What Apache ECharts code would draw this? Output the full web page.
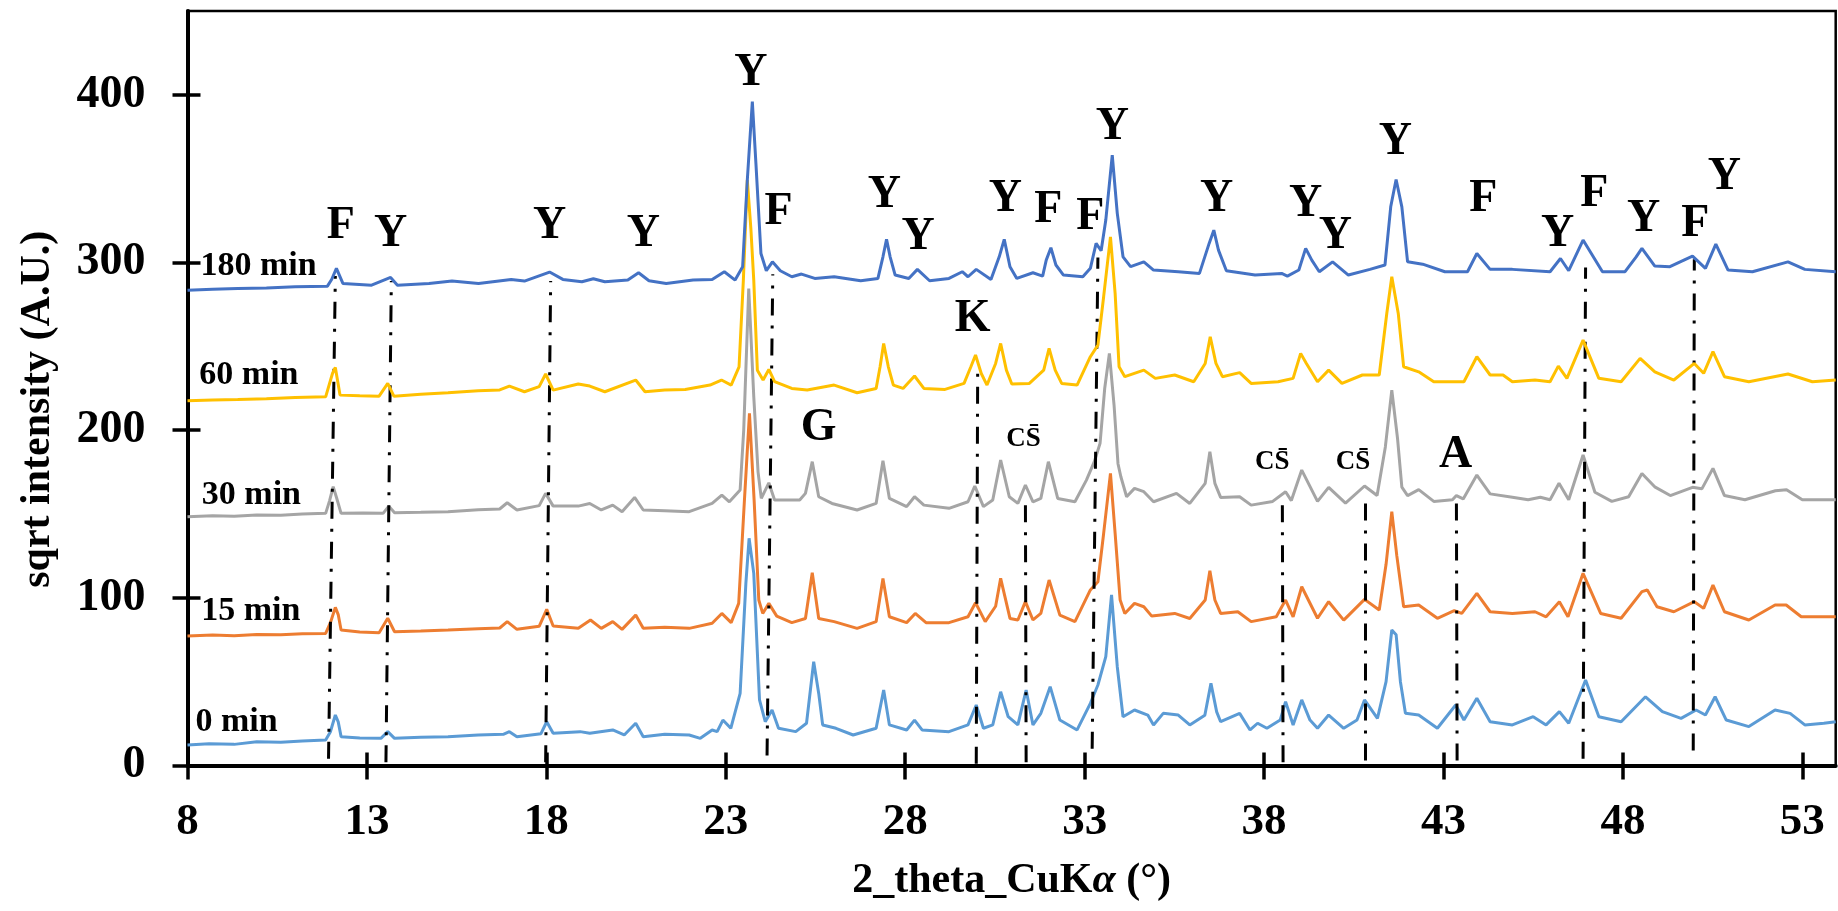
<!DOCTYPE html>
<html>
<head>
<meta charset="utf-8">
<script src="https://cdn.jsdelivr.net/npm/echarts@6/dist/echarts.min.js"></script>
<style>
html,body{margin:0;padding:0;background:#fff;}
#chart{width:1838px;height:911px;}
</style>
</head>
<body>
<div id="chart"></div>
<script>
// ---- data (2theta, sqrt intensity) ----
const seriesNames = ['0 min', '15 min', '30 min', '60 min', '180 min'];
const xTicks = [8, 13, 18, 23, 28, 33, 38, 43, 48, 53];
const yTicks = [0, 100, 200, 300, 400];

const s0min = [[8.0,12.2],[8.6,13],[9.3,12.6],[9.93,14.2],[10.6,13.8],[11.2,14.6],[11.85,15.2],[11.98,20],[12.12,30.1],[12.2,26],[12.28,17.2],[12.8,16.4],[13.39,16.2],[13.58,20.2],[13.77,16.2],[14.5,16.8],[15.26,17.2],[16.1,18.2],[16.8,18.6],[16.97,20.2],[17.18,17.2],[17.85,19],[18.01,26.1],[18.19,19.2],[18.94,20.2],[19.21,19.2],[19.85,21.2],[20.17,18.2],[20.49,25.2],[20.7,17.2],[21.3,18.6],[21.98,18.2],[22.29,16.2],[22.62,21.2],[22.76,20.2],[22.92,27.1],[23.14,22.2],[23.4,43.0],[23.56,108.6],[23.65,135.5],[23.78,114.6],[23.94,39.1],[24.1,26.1],[24.29,33.1],[24.47,22.2],[24.95,20.2],[25.25,25.2],[25.45,61.9],[25.59,43.0],[25.7,24.2],[26.07,22.2],[26.55,18.2],[27.19,22.2],[27.4,45.0],[27.56,24.2],[28.04,21.2],[28.26,27.1],[28.47,21.2],[29.22,20.2],[29.75,24.2],[29.98,36.1],[30.18,22.2],[30.44,24.2],[30.66,44.0],[30.87,29.1],[31.14,24.2],[31.37,45.0],[31.56,24.2],[31.78,31.1],[32.04,47.0],[32.31,27.1],[32.79,21.2],[33.16,37.1],[33.37,48.0],[33.59,64.9],[33.75,101.7],[33.91,58.9],[34.07,29.1],[34.39,33.1],[34.76,30.1],[34.92,24.2],[35.19,31.1],[35.61,30.1],[35.93,24.2],[36.35,30],[36.52,49.0],[36.68,32],[36.79,26.1],[37.32,31.1],[37.61,21.2],[37.82,25.2],[38.08,22.2],[38.45,27.1],[38.6,38.1],[38.81,24.2],[39.05,39.1],[39.28,27.1],[39.49,22.2],[39.8,30.1],[40.22,22.2],[40.59,27.1],[40.8,39.1],[41.16,28.1],[41.4,50],[41.56,80.8],[41.68,78],[41.8,50],[41.94,31.1],[42.31,30.1],[42.83,22.2],[43.34,36.1],[43.57,27.1],[43.93,40.1],[44.3,26.1],[44.92,24.2],[45.5,29.1],[45.86,24.2],[46.23,32.1],[46.49,25.2],[46.96,51.0],[47.33,29.1],[47.95,26.1],[48.63,41.0],[49.1,32.1],[49.62,28.1],[50.04,33.1],[50.3,30.1],[50.57,41.0],[50.88,27.1],[51.51,23.2],[52.24,33.1],[52.66,31.1],[53.07,24.2],[53.6,25.2],[53.93,26.1]];

const s15min = [[8.0,77.2],[8.7,77.8],[9.3,77.4],[9.93,78.2],[10.6,78],[11.2,78.6],[11.85,78.8],[11.98,85],[12.12,94.3],[12.2,90],[12.28,80.8],[12.8,79.6],[13.34,79.2],[13.58,87.8],[13.77,79.8],[14.5,80.2],[15.26,80.8],[16.1,81.6],[16.7,82],[16.91,85.8],[17.18,81.2],[17.8,83],[18.01,93.1],[18.19,83.2],[18.89,81.8],[19.23,86.8],[19.53,81.8],[19.85,85.8],[20.11,81.2],[20.49,89.7],[20.7,81.8],[21.3,82.4],[21.98,81.8],[22.62,84.8],[22.89,90.7],[23.15,85.2],[23.36,96.7],[23.52,158.3],[23.66,210.0],[23.79,158.3],[23.92,98.7],[24.03,90.7],[24.2,96.7],[24.42,89.1],[24.84,85.2],[25.22,87.7],[25.41,115.0],[25.59,87.7],[26.02,85.8],[26.66,81.8],[27.19,85.8],[27.38,111.6],[27.56,88.7],[28.04,85.2],[28.28,90.7],[28.58,85.2],[29.22,85.2],[29.75,88.7],[29.96,97.1],[30.23,85.8],[30.52,95],[30.66,111.6],[30.92,87.7],[31.14,86.8],[31.35,97.7],[31.56,86.8],[31.78,90.7],[32.01,110.6],[32.31,89.7],[32.73,85.8],[33.16,104.7],[33.37,109.6],[33.53,138.4],[33.72,174.2],[33.85,138.4],[33.99,98.7],[34.12,90.7],[34.39,96.7],[34.65,94.7],[34.87,89.1],[35.51,90.7],[35.93,87.7],[36.36,98.7],[36.49,116.2],[36.63,98.7],[36.79,90.7],[37.27,91.7],[37.64,85.8],[38.34,88.7],[38.6,98.7],[38.81,88.7],[39.05,106.6],[39.49,87.8],[39.8,97.7],[40.22,86.7],[40.8,99.1],[41.21,92.7],[41.4,120],[41.56,151.4],[41.7,125],[41.89,94.7],[42.31,95.7],[42.83,87.8],[43.3,92.3],[43.51,90.7],[43.93,102.7],[44.3,91.7],[44.92,90.7],[45.55,91.7],[45.86,88.7],[46.23,97.7],[46.47,88.7],[46.89,114.6],[47.38,90.7],[47.95,87.8],[48.53,103.7],[48.68,104.7],[48.95,94.7],[49.42,91.7],[49.99,97.7],[50.25,93.7],[50.51,107.6],[50.83,91.7],[51.51,86.8],[52.24,95.7],[52.55,95.7],[52.97,88.7],[53.93,88.7]];

const s30min = [[8.0,148.4],[8.7,149],[9.3,148.6],[9.93,149.4],[10.6,149.2],[11.2,150],[11.85,150.4],[11.96,158],[12.06,166.3],[12.15,160],[12.28,150.4],[12.9,150.6],[13.45,150.4],[13.61,154.7],[13.77,150.8],[14.5,151],[15.26,151.4],[16.1,152.6],[16.7,153],[16.91,156.7],[17.18,152.4],[17.8,155],[17.98,162.3],[18.19,154.7],[18.89,154.7],[19.21,156.3],[19.53,152.4],[19.85,155.3],[20.11,151.4],[20.46,159.9],[20.7,152.4],[21.3,152],[21.98,151.4],[22.62,156.3],[22.89,161.3],[23.1,157.3],[23.4,164.3],[23.5,200],[23.64,284.5],[23.78,220],[23.9,175],[23.99,159.3],[24.2,168.6],[24.36,158.3],[25.06,158.3],[25.22,162.3],[25.41,181.2],[25.59,160.3],[25.96,156.3],[26.66,152.4],[27.19,156.3],[27.38,181.8],[27.56,159.3],[28.04,154.4],[28.26,160.3],[28.52,155.3],[29.22,153.4],[29.75,157.3],[29.94,166.7],[30.18,154.4],[30.44,158.3],[30.66,182.2],[30.9,160.3],[31.14,156.3],[31.35,167.3],[31.56,157.3],[31.78,159.3],[31.99,181.2],[32.25,159.3],[32.73,157.3],[33.05,170.2],[33.27,181.2],[33.43,192.1],[33.56,225],[33.69,245.8],[33.82,215],[33.93,180],[34.01,172.2],[34.17,160.3],[34.39,165.3],[34.65,163.3],[34.92,157.3],[35.56,162.3],[35.93,156.3],[36.36,168.3],[36.49,187.1],[36.63,168.3],[36.79,159.9],[37.32,160.3],[37.64,155.3],[38.24,157.5],[38.6,163.3],[38.76,158],[39.05,176.2],[39.49,157.5],[39.8,165.9],[40.27,156.5],[40.8,166.7],[41.15,161],[41.38,190],[41.56,223.9],[41.72,195],[41.84,166],[42.0,161],[42.31,164.5],[42.73,157.5],[43.25,158.5],[43.36,161],[43.55,159],[43.93,173.2],[44.3,162],[44.92,160],[45.36,158.5],[45.7,160],[45.97,158.5],[46.22,168.3],[46.49,158.5],[46.89,185.2],[47.22,163],[47.69,157.5],[48.16,160.3],[48.53,174.2],[48.9,166],[49.32,161],[49.94,165.9],[50.2,165],[50.51,177.2],[50.83,161],[51.4,158.5],[52.25,163.9],[52.56,164.5],[53.0,158.5],[53.93,158.5]];

const s60min = [[8.0,217.5],[8.7,218],[9.4,218.3],[10.2,218.8],[11.0,219.5],[11.85,219.9],[12.04,233.8],[12.12,237.4],[12.25,220.9],[12.8,220.5],[13.34,220.3],[13.58,227.9],[13.75,220.3],[14.5,221.4],[15.26,222.3],[16.1,223.5],[16.7,224],[16.97,226.3],[17.39,222.9],[17.8,226],[17.98,233.5],[18.19,223.9],[18.89,227.5],[19.21,226.3],[19.63,222.9],[20.49,229.9],[20.75,222.9],[21.3,224],[21.87,224.3],[22.56,226.9],[22.88,229.9],[23.15,226.9],[23.37,237.8],[23.49,289.5],[23.6,349.1],[23.7,320],[23.78,289.5],[23.88,235.8],[24.04,229.9],[24.2,236.2],[24.36,228.9],[24.84,224.9],[25.27,223.9],[26.02,226.9],[26.66,222.3],[27.19,224.9],[27.3,237.8],[27.4,251.7],[27.53,237.8],[27.67,226.9],[27.94,224.9],[28.26,232.3],[28.52,224.9],[29.11,224.3],[29.64,227.9],[29.83,237.8],[29.96,244.8],[30.12,233.8],[30.28,226.9],[30.52,239.8],[30.66,251.7],[30.82,235.8],[30.97,227.5],[31.46,227.9],[31.86,235.8],[32.01,248.8],[32.18,235.8],[32.36,227.9],[32.79,226.9],[33.16,243.8],[33.37,250.7],[33.53,279.6],[33.72,315.3],[33.85,281.6],[33.96,237.8],[34.12,231.9],[34.65,235.8],[34.97,230.9],[35.51,232.9],[36.04,228.9],[36.36,239.8],[36.5,255.7],[36.66,239.8],[36.84,231.9],[37.32,234.3],[37.64,227.9],[38.39,228.9],[38.81,230.9],[39.02,245.8],[39.18,239.8],[39.49,228.9],[39.8,235.8],[40.17,227.9],[40.74,232.9],[41.21,232.9],[41.42,269.6],[41.56,291.5],[41.74,269.6],[41.89,237.8],[42.31,234.8],[42.73,228.9],[43.57,228.9],[43.93,243.8],[44.3,232.9],[44.66,232.9],[44.92,228.9],[45.55,229.9],[45.97,228.9],[46.2,238.2],[46.44,230.9],[46.89,253.7],[47.33,230.9],[47.95,228.9],[48.48,242.8],[48.89,234.8],[49.42,229.9],[49.99,239.8],[50.25,233.9],[50.51,246.8],[50.83,231.9],[51.51,228.9],[52.6,233.5],[53.28,228.9],[53.93,229.9]];

const s180min = [[8.0,283.5],[8.7,284],[9.4,284.5],[10.2,284.8],[11.0,285.5],[11.9,285.9],[12.02,290],[12.15,296.5],[12.33,287.5],[13.13,286.5],[13.66,291.1],[13.85,286.5],[14.73,287.5],[15.37,288.9],[16.11,287.5],[17.02,289.9],[17.39,288.9],[18.09,294.3],[18.46,289.9],[18.99,288.5],[19.31,290.3],[19.63,288.5],[20.27,289.5],[20.57,293.9],[20.86,289.1],[21.34,287.5],[22.09,289.5],[22.62,289.9],[22.96,294.5],[23.26,289.5],[23.47,297.5],[23.6,349.1],[23.74,395.9],[23.84,359.1],[23.98,305.4],[24.13,295.1],[24.3,300.4],[24.52,295.1],[24.84,291.5],[25.11,293.1],[25.48,290.5],[26.02,291.5],[26.76,289.1],[27.24,290.5],[27.38,303.4],[27.48,313.8],[27.58,303.4],[27.72,292.5],[28.1,290.5],[28.34,295.9],[28.68,289.1],[29.22,290.5],[29.59,294.5],[29.75,291.5],[29.98,295.9],[30.39,289.9],[30.62,303.4],[30.76,313.8],[30.92,297.5],[31.11,290.5],[31.56,293.9],[31.83,291.9],[31.93,301.4],[32.06,308.8],[32.2,298.5],[32.41,292.5],[32.95,291.5],[33.16,296.5],[33.32,311.4],[33.46,307.0],[33.59,325.3],[33.77,364.0],[33.91,329.3],[34.07,303.4],[34.28,297.5],[34.65,300.4],[34.92,295.5],[35.61,294.5],[36.2,293.5],[36.47,311.4],[36.6,319.3],[36.73,307.4],[36.95,295.1],[37.75,292.5],[38.49,293.5],[38.65,291.9],[38.97,295.5],[39.16,308.4],[39.33,301.4],[39.54,294.5],[39.91,300.4],[40.35,292.5],[40.95,295.9],[41.37,298.5],[41.53,333.2],[41.68,349.5],[41.84,333.2],[42.0,300.4],[42.42,299.0],[43.04,294.5],[43.67,294.5],[43.93,305.4],[44.3,295.9],[44.92,295.9],[45.97,294.5],[46.26,302.4],[46.49,295.1],[46.89,313.4],[47.43,294.5],[48.06,294.5],[48.37,303.4],[48.53,308.4],[48.89,297.9],[49.31,297.5],[49.94,303.8],[50.3,296.5],[50.59,311.0],[50.93,295.5],[51.61,294.5],[52.6,300.4],[53.07,295.9],[53.93,294.5]];

// phase labels: [2theta, intensity, text]
const phaseLabels = [[12.27,322,'F'],[13.66,317,'Y'],[18.09,322,'Y'],[20.7,317,'Y'],[23.7,413,'Y'],[24.47,330,'F'],[27.42,340,'Y'],[28.36,315,'Y'],[30.79,338,'Y'],[31.99,331,'F'],[33.16,327,'F'],[33.77,381,'Y'],[36.68,338,'Y'],[39.16,335,'Y'],[39.99,316,'Y'],[41.66,372,'Y'],[44.11,338,'F'],[46.18,317,'Y'],[47.2,341,'F'],[48.58,326,'Y'],[50.02,323,'F'],[50.83,351,'Y'],[29.88,266,'K'],[25.59,201,'G'],[43.34,185,'A']];
const csLabels = [[31.3,195],[38.23,181],[40.48,181]];
// curve name labels: [2theta (left edge), intensity, text]
const curveLabels = [[8.22,26,'0 min'],[8.38,92,'15 min'],[8.4,161,'30 min'],[8.33,233,'60 min'],[8.36,298,'180 min']];
// dash-dot reference lines: [x bottom, y bottom, x top, y top]
const refLines = [[11.93,4,12.12,292],[13.53,2,13.68,289],[17.98,2,18.12,289],[24.15,6,24.31,293],[29.98,1,30.02,237],[31.37,2,31.35,158],[33.21,10,33.37,303],[38.53,2,38.51,157],[40.83,3,40.83,160],[43.38,3,43.36,160],[46.89,4,46.96,297],[49.96,9,49.99,302]];

const colors = ['#5B9BD5', '#ED7D31', '#A5A5A5', '#FFC000', '#4472C4'];
const curves = [s0min, s15min, s30min, s60min, s180min];
const FONT = 'Liberation Serif, Times New Roman, serif';

const chart = echarts.init(document.getElementById('chart'), null, {renderer: 'canvas'});

const xBase = {type: 'value', min: 8, max: 53.93, splitLine: {show: false}};
const yBase = {type: 'value', min: 0, max: 450, splitLine: {show: false}};

const option = {
  animation: false,
  backgroundColor: '#fff',
  grid: {left: 187.5, right: 2.3, top: 11, bottom: 145.5, containLabel: false, outerBoundsMode: 'none',
         show: true, borderColor: '#000', borderWidth: 2.5, backgroundColor: 'transparent'},
  xAxis: [
    Object.assign({}, xBase, {
      position: 'bottom',
      axisLine: {show: true, onZero: false, lineStyle: {color: '#000', width: 4}},
      axisTick: {show: true, inside: false, length: 14, lineStyle: {color: '#000', width: 3.5}, customValues: xTicks},
      axisLabel: {show: true, customValues: xTicks, margin: 34, color: '#000', fontSize: 45, fontWeight: 'bold', fontFamily: FONT},
      name: '2_theta_CuK{i|α} (°)',
      nameLocation: 'middle',
      nameGap: 95,
      nameTextStyle: {color: '#000', fontSize: 42, fontWeight: 'bold', fontFamily: FONT,
        rich: {i: {fontStyle: 'italic', fontSize: 42, fontWeight: 'bold', fontFamily: FONT, color: '#000'}}}
    }),
    Object.assign({}, xBase, {
      position: 'bottom',
      axisLine: {show: false, onZero: false},
      axisTick: {show: true, inside: true, length: 13, lineStyle: {color: '#000', width: 3.5}, customValues: xTicks},
      axisLabel: {show: false}
    })
  ],
  yAxis: [
    Object.assign({}, yBase, {
      position: 'left',
      axisLine: {show: true, onZero: false, lineStyle: {color: '#000', width: 4}},
      axisTick: {show: true, inside: false, length: 15, lineStyle: {color: '#000', width: 3.5}, customValues: yTicks},
      axisLabel: {show: true, customValues: yTicks, margin: 42, color: '#000', fontSize: 46, fontWeight: 'bold', fontFamily: FONT},
      name: 'sqrt intensity (A.U.)',
      nameLocation: 'middle',
      nameGap: 128,
      nameTextStyle: {color: '#000', fontSize: 42, fontWeight: 'bold', fontFamily: FONT, padding: [0, 42, 0, 0]}
    }),
    Object.assign({}, yBase, {
      position: 'left',
      axisLine: {show: false, onZero: false},
      axisTick: {show: true, inside: true, length: 13, lineStyle: {color: '#000', width: 3.5}, customValues: yTicks},
      axisLabel: {show: false}
    })
  ],
  series: curves.map((d, i) => ({
    name: seriesNames[i],
    type: 'line',
    xAxisIndex: 0, yAxisIndex: 0,
    data: d,
    showSymbol: false,
    symbol: 'none',
    smooth: false,
    lineStyle: {color: colors[i], width: 3},
    itemStyle: {color: colors[i]},
    z: 2 + i
  })).concat([
    {
      type: 'scatter', name: 'phases', xAxisIndex: 0, yAxisIndex: 0, silent: true, z: 20,
      symbolSize: 1, itemStyle: {color: 'rgba(0,0,0,0)', opacity: 1},
      data: phaseLabels.map(p => ({value: [p[0], p[1]], name: p[2]}))
        .concat(csLabels.map(p => ({value: [p[0], p[1]], name: 'CS\u0304',
          label: {fontSize: 27}}))),
      label: {show: true, position: 'inside', formatter: '{b}', color: '#000', opacity: 1, fontSize: 46, fontWeight: 'bold', fontFamily: FONT},
      markLine: {
        silent: true, symbol: ['none', 'none'], label: {show: false}, animation: false,
        lineStyle: {color: '#000', width: 3, type: [17, 10, 3, 10], opacity: 1},
        emphasis: {disabled: true},
        data: refLines.map(l => [{coord: [l[0], l[1]]}, {coord: [l[2], l[3]]}])
      }
    },
    {
      type: 'scatter', name: 'curveNames', xAxisIndex: 0, yAxisIndex: 0, silent: true, z: 21,
      symbolSize: 1, itemStyle: {color: 'rgba(0,0,0,0)', opacity: 1},
      data: curveLabels.map(p => ({value: [p[0], p[1]], name: p[2]})),
      label: {show: true, position: 'inside', align: 'left', verticalAlign: 'middle', formatter: '{b}', color: '#000', opacity: 1, fontSize: 34, fontWeight: 'bold', fontFamily: FONT}
    }
  ])
};
chart.setOption(option);
</script>
</body>
</html>
